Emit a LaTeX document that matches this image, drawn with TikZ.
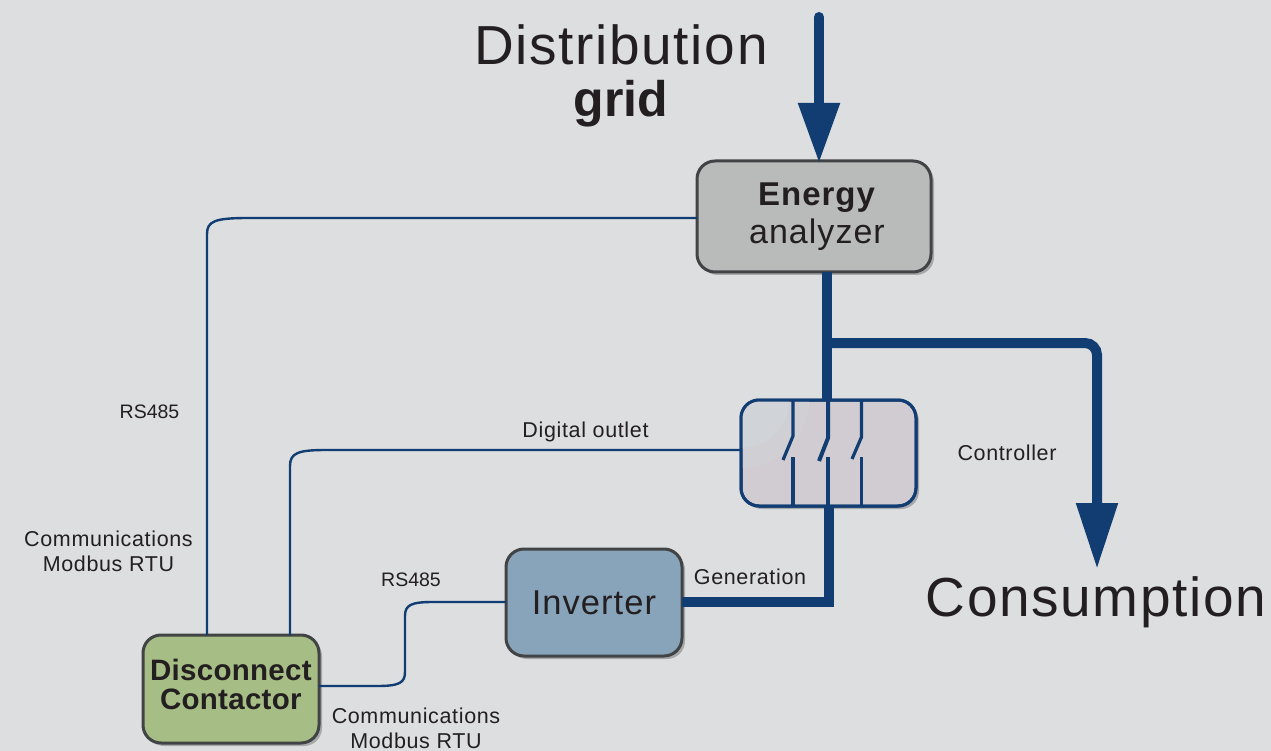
\documentclass[tikz,border=0pt]{standalone}
\usepackage{fontspec}
\setmainfont{Liberation Sans}[LetterSpace=3]
\usetikzlibrary{arrows.meta,shadows}
\definecolor{bgc}{HTML}{DCDEE0}
\definecolor{navy}{HTML}{123D72}
\definecolor{ink}{HTML}{231F20}
\definecolor{edgec}{HTML}{414344}
\definecolor{anfill}{HTML}{B9BBBA}
\definecolor{invfill}{HTML}{88A4BB}
\definecolor{dcfill}{HTML}{A6BD85}
\definecolor{swfill}{HTML}{D0CCD1}
\definecolor{swlight}{HTML}{D0D3D7}
\definecolor{shade}{HTML}{9A9B9D}
\newcommand{\nudged}[3]{\hspace*{#1}\raisebox{#2}{\begin{tabular}{@{}c@{}}#3\end{tabular}}}
\tikzset{
  boxbase/.style={draw=edgec,line width=3pt,rounded corners=18pt,inner sep=0pt,outer sep=0pt,align=center,text=ink},
  box/.style={boxbase,drop shadow={shadow xshift=3pt,shadow yshift=-3pt,fill=shade,opacity=.8}},
  lbl/.style={text=ink,inner sep=0pt,outer sep=0pt,align=center,font=\fontsize{21.5}{25}\selectfont},
  big/.style={text=ink,inner sep=0pt,outer sep=0pt,align=center,font=\fontsize{55}{52}\selectfont},
  thin line/.style={draw=navy,line width=2.4pt},
  power/.style={draw=navy,line width=10pt},
  sw/.style={draw=navy,line width=3.2pt,line join=round}
}
\begin{document}
\begin{tikzpicture}[x=1pt,y=-1pt]
\useasboundingbox[fill=bgc] (0,0) rectangle (1271,751);
% boxes
\node[box,fill=anfill,minimum width=234pt,minimum height=111pt,font=\fontsize{33}{38}\selectfont] (an) at (814,216.5)
  {\nudged{6pt}{0pt}{\textbf{Energy}\\\fontsize{34}{38}\selectfont analyzer}};
\node[box,draw=navy,fill=swfill,minimum width=175pt,minimum height=106pt] (sw) at (828.5,453) {};
\begin{scope}
  \clip[rounded corners=18pt] (742,401) rectangle (915,505);
  \fill[swlight,opacity=.5] (741,400) circle (68pt);
  \fill[swlight] (741,400) circle (48pt);
\end{scope}
\node[boxbase,draw=navy,minimum width=175pt,minimum height=106pt] (swf) at (828.5,453) {};
\node[box,draw=edgec,fill=invfill,minimum width=176pt,minimum height=107pt,font=\fontsize{34.5}{38}\selectfont] (inv) at (594,602.5) {Inverter};
\node[box,fill=dcfill,minimum width=176pt,minimum height=108pt,font=\fontsize{29.5}{29}\selectfont\addfontfeature{LetterSpace=1}] (dc) at (231,689)
  {\nudged{0pt}{3pt}{\textbf{Disconnect}\\\textbf{Contactor}}};
% free corners
\coordinate (a1) at (207,218);
\coordinate (a2) at (207,635);
\coordinate (b1) at (290,450);
\coordinate (b2) at (290,635);
\coordinate (c1) at (405,686);
\coordinate (c2) at (405,602);
\coordinate (pTop) at (819,17);
\coordinate (pTip) at (819,163);
\coordinate (pAnS) at (827,272);
\coordinate (pSwN) at (827,400);
\coordinate (pJoin) at (827,343);
\coordinate (pCorner) at (1097,343);
\coordinate (pEnd) at (1097,569);
\coordinate (pSwS) at (829,506);
\coordinate (pBend) at (829,602);
% thin connectors
\draw[thin line] (an.west |- a1) -- ([xshift=42pt]a1) .. controls ([xshift=8pt]a1) and ([yshift=-3pt]a1) .. ([yshift=-16pt]a1) -- (a2);
\draw[thin line] (sw.west |- b1) -- ([xshift=36pt]b1) .. controls ([xshift=8pt]b1) and ([yshift=-3pt]b1) .. ([yshift=-16pt]b1) -- (b2);
\draw[thin line] (dc.east |- c1) -- ([xshift=-28pt]c1) .. controls ([xshift=-6pt]c1) and ([yshift=3pt]c1) .. ([yshift=14pt]c1) -- ([yshift=-14pt]c2) .. controls ([yshift=-3pt]c2) and ([xshift=6pt]c2) .. ([xshift=28pt]c2) -- (inv.west |- c2);
% power lines
\draw[power,line cap=round,-{Triangle[length=60pt,width=39.5pt]}] (pTop) -- (pTip);
\draw[power] (pAnS) -- (pSwN);
\draw[power,rounded corners=12pt,-{Triangle[length=66pt,width=39.5pt]}] (pJoin) -- (pCorner) -- (pEnd);
\draw[power,line join=miter] (pSwS) -- (pBend) -- (inv.east |- pBend);
% switch poles
\draw[sw] (793,400) -- (793,436) -- (783,460);
\draw[sw] (793,457) -- (793,505);
\draw[sw,line width=4pt] (828,400) -- (828,438) -- (819,461);
\draw[sw,line width=4pt] (828,457) -- (828,505);
\draw[sw] (861.5,400) -- (861.5,437) -- (852,459);
\draw[sw] (861.5,457) -- (861.5,505);
% labels
\node[big] (tDist) at (621,75.5) {Distribution\\{\fontsize{50}{52}\selectfont\addfontfeature{LetterSpace=0}\textbf{grid}}};
\node[big] (tCons) at (1096,602) {Consumption};
\node[lbl,font=\fontsize{19.5}{25}\selectfont\addfontfeature{LetterSpace=0}] (t1) at (149.5,412) {RS485};
\node[lbl] (t2) at (585.5,432) {Digital outlet};
\node[lbl] (t3) at (1007,453) {Controller};
\node[lbl] (t4) at (108.5,551) {Communications\\Modbus RTU};
\node[lbl,font=\fontsize{19.5}{25}\selectfont\addfontfeature{LetterSpace=0}] (t5) at (411,580) {RS485};
\node[lbl] (t6) at (750,577) {Generation};
\node[lbl] (t7) at (416,728) {Communications\\Modbus RTU};
\end{tikzpicture}
\end{document}
